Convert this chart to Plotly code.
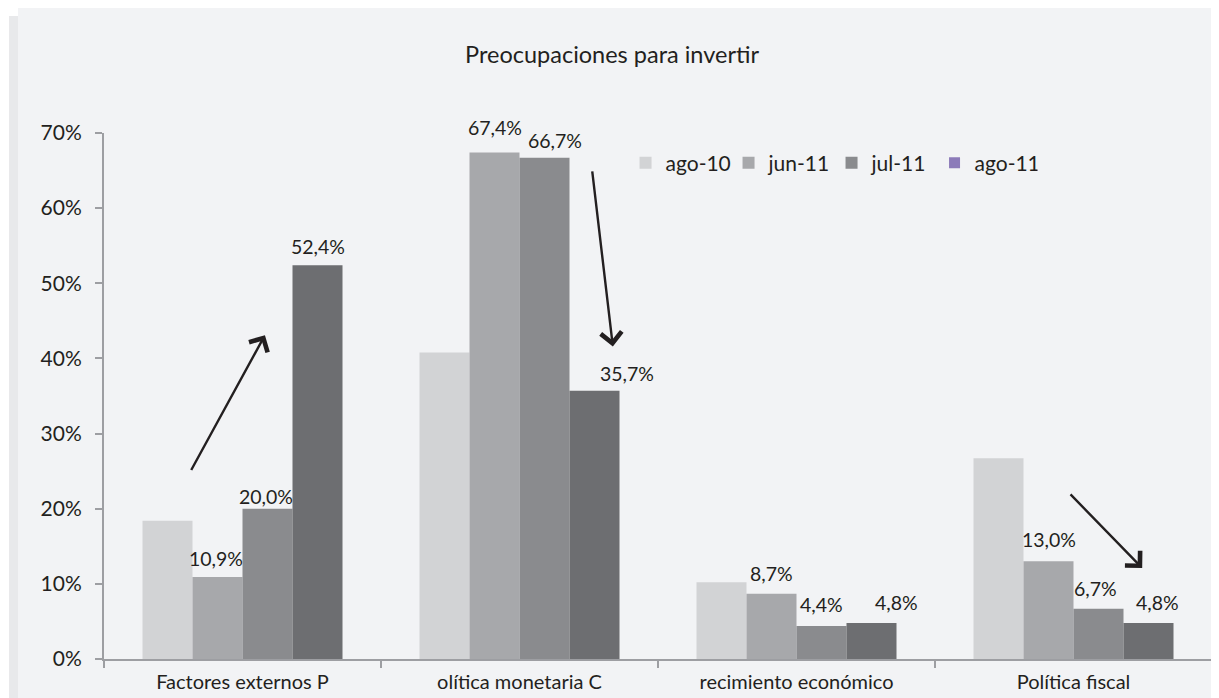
import plotly.graph_objects as go

categories = ["Factores externos P", "olítica monetaria C", "recimiento económico", "Política fiscal"]
series_names = ["ago-10", "jun-11", "jul-11", "ago-11"]
ago10 = [0.184, 0.408, 0.102, 0.267]
jun11 = [0.109, 0.674, 0.087, 0.130]
jul11 = [0.200, 0.667, 0.044, 0.067]
ago11 = [0.524, 0.357, 0.048, 0.048]
labelled_series = [False, True, True, True]
bar_colors = ["#d2d3d5", "#a7a8ab", "#8a8b8e", "#6d6e71"]
legend_ago11_color = "#8c7bb9"
yticks = [0, 0.1, 0.2, 0.3, 0.4, 0.5, 0.6, 0.7]

# per-label pixel nudges (style), indexed [series][category]
label_dx = [[0, 0, 0, 0], [-2, 0, 0, 0], [-2, 10, 0, -3], [0, 32, 25, 9]]
label_dy = [[0, 0, 0, 0], [19, 25, 20, 22], [12, 17, 21, 20], [19, 17, 20, 20]]

FONT = "Lato"
TXT = "#231f20"
BARGAP = 0.278

fig = go.Figure()
all_vals = [ago10, jun11, jul11, ago11]
nser = len(all_vals)
bar_w = (1 - BARGAP) / nser
for i, (name, vals) in enumerate(zip(series_names, all_vals)):
    fig.add_trace(go.Bar(
        x=categories, y=vals, name=name,
        marker=dict(color=bar_colors[i], line=dict(width=0)),
        showlegend=(i < 3),
    ))
    if labelled_series[i]:
        for j, v in enumerate(vals):
            fig.add_annotation(
                x=j + (i - (nser - 1) / 2) * bar_w, y=v, xref="x", yref="y",
                text=f"{v * 100:.1f}%".replace(".", ","), showarrow=False,
                yanchor="middle", xanchor="center",
                xshift=label_dx[i][j], yshift=label_dy[i][j],
                font=dict(family=FONT, size=19.5, color=TXT),
            )
# legend entry for ago-11 (purple swatch in original legend)
fig.add_trace(go.Scatter(
    x=[None], y=[None], mode="markers", name="ago-11",
    marker=dict(symbol="square", size=11, color=legend_ago11_color),
))

# arrows (category index units on x, data units on y)
arrows = [
    (-0.188, 0.2495, 0.081, 0.431),
    (1.262, 0.651, 1.337, 0.416),
    (2.984, 0.221, 3.248, 0.121),
]
for x0, y0, x1, y1 in arrows:
    fig.add_annotation(x=x1, y=y1, ax=x0, ay=y0, xref="x", yref="y",
                       axref="x", ayref="y", showarrow=True, text="",
                       arrowhead=4, arrowsize=1.7, arrowwidth=2.4,
                       arrowcolor="#231f20")

# backgrounds
fig.add_shape(type="rect", xref="paper", yref="paper",
              x0=-0.0776, x1=1.02, y0=-0.1, y1=1.2376,
              fillcolor="#f2f3f5", line=dict(width=0), layer="below")
fig.add_shape(type="rect", xref="paper", yref="paper",
              x0=-0.0857, x1=-0.0776, y0=-0.1, y1=1.2224,
              fillcolor="#e8e9eb", line=dict(width=0), layer="below")

fig.update_layout(
    width=1211, height=690,
    margin=dict(l=96, r=7, t=125, b=39, autoexpand=False),
    paper_bgcolor="white", plot_bgcolor="rgba(0,0,0,0)",
    barmode="group", bargap=BARGAP, bargroupgap=0,
    font=dict(family=FONT, color=TXT),
    title=dict(text="Preocupaciones para invertir", x=0.4988, xref="container",
               y=1 - 47 / 690, yref="container", yanchor="middle", xanchor="center",
               font=dict(family=FONT, size=23.5, color=TXT)),
    legend=dict(orientation="h", x=0.4707, xanchor="left", y=0.943, yanchor="middle",
                bgcolor="rgba(0,0,0,0)", font=dict(family=FONT, size=21, color=TXT),
                entrywidth=58, entrywidthmode="pixels", itemwidth=30,
                traceorder="normal"),
    xaxis=dict(showline=True, linecolor="#9d9ea2", linewidth=2,
               ticks="outside", tickson="boundaries", ticklen=7, tickcolor="#9d9ea2",
               tickwidth=1.5, tickfont=dict(family=FONT, size=20, color=TXT),
               ticklabelstandoff=4, showgrid=False, zeroline=False,
               automargin=False, range=[-0.5, 3.5]),
    yaxis=dict(range=[0, 0.7], tickvals=yticks, tickformat=".0%",
               showline=True, linecolor="#9d9ea2", linewidth=2,
               ticks="outside", ticklen=7, tickcolor="#9d9ea2", tickwidth=1.5,
               tickfont=dict(family=FONT, size=21, color=TXT),
               ticklabelstandoff=9, showgrid=False, zeroline=False,
               automargin=False),
)

fig.write_html("out.html")
